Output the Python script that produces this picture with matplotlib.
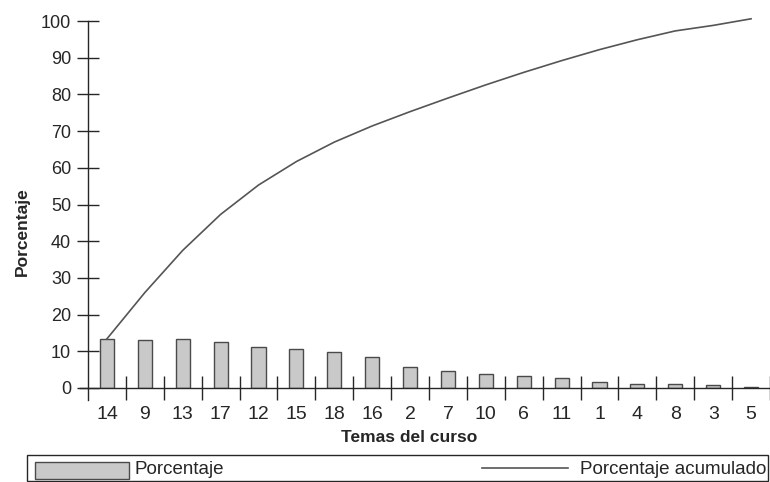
import matplotlib
matplotlib.use("Agg")
import matplotlib.pyplot as plt
from matplotlib.patches import Rectangle
from matplotlib.lines import Line2D

plt.rcParams['font.family'] = ['Liberation Sans', 'DejaVu Sans']

# Data
temas = ['14', '9', '13', '17', '12', '15', '18', '16', '2', '7', '10', '6', '11', '1', '4', '8', '3', '5']
porcentaje = [13.3, 13.2, 13.4, 12.5, 11.3, 10.6, 9.7, 8.4, 5.6, 4.7, 3.9, 3.3, 2.6, 1.6, 1.2, 1.2, 0.9, 0.4]
acumulado = [13.4, 26.0, 37.5, 47.3, 55.3, 61.7, 67.0, 71.4, 75.3, 79.0, 82.6, 86.0, 89.2, 92.2, 94.9, 97.3, 98.8, 100.6]
yticks = [0, 10, 20, 30, 40, 50, 60, 70, 80, 90, 100]

W, H = 770, 482
fig = plt.figure(figsize=(W / 100, H / 100), dpi=100)
fig.patch.set_facecolor('white')

ax_left, ax_right, ax_bottom_px, ax_top_px = 88, 770, 388, 21
ax = fig.add_axes([ax_left / W, (H - ax_bottom_px) / H,
                   (ax_right - ax_left) / W, (ax_bottom_px - ax_top_px) / H])
ax.set_facecolor('none')

x = list(range(len(temas)))
ink = '#262626'
ax.bar(x, porcentaje, width=0.37, color='#c9c9c9', edgecolor='#4a4a4a', linewidth=1.0, zorder=2)
ax.plot(x, acumulado, color='#555555', linewidth=1.2, clip_on=False, zorder=3)

ax.set_xlim(-0.5, len(temas) - 0.5)
ax.set_ylim(0, 100)

for s in ['top', 'right']:
    ax.spines[s].set_visible(False)
ax.spines['left'].set_color(ink)
ax.spines['bottom'].set_color(ink)
ax.spines['left'].set_linewidth(1.0)
ax.spines['bottom'].set_linewidth(1.0)
px_per_unit_y = (ax_bottom_px - ax_top_px) / 100
px_per_unit_x = (ax_right - ax_left) / len(temas)
ax.spines['left'].set_bounds(-12 / px_per_unit_y, 100)
ax.spines['bottom'].set_bounds(-0.5 - 8 / px_per_unit_x, len(temas) - 0.5)

ax.set_yticks(yticks)
ax.set_yticklabels([str(v) for v in yticks])
ax.tick_params(axis='y', direction='inout', length=16.5, width=1.0, color=ink,
               labelsize=13, labelcolor=ink, pad=4.0)

ax.set_xticks(x)
ax.set_xticklabels(temas)
ax.set_xticks([i - 0.5 for i in range(1, len(temas) + 1)], minor=True)
ax.tick_params(axis='x', which='major', length=0, labelsize=14, labelcolor=ink, pad=13)
ax.tick_params(axis='x', which='minor', direction='inout', length=17, width=1.0, color=ink)

fig.text(409 / W, 1 - 438 / H, 'Temas del curso', ha='center', va='center',
         fontsize=12.5, fontweight='bold', color=ink)
fig.text(22 / W, 1 - 232 / H, 'Porcentaje', ha='center', va='center', rotation=90,
         fontsize=12.5, fontweight='bold', color=ink)

# Legend box
def fx(px):
    return px / W

def fy(py):
    return 1 - py / H

fig.add_artist(Rectangle((fx(27), fy(481)), fx(768) - fx(27), fy(455) - fy(481),
                         transform=fig.transFigure, facecolor='none', edgecolor=ink, linewidth=1.0))
fig.add_artist(Rectangle((fx(35), fy(479)), fx(129) - fx(35), fy(462) - fy(479),
                         transform=fig.transFigure, facecolor='#c9c9c9', edgecolor='#4a4a4a', linewidth=1.0))
fig.text(fx(135), fy(470), 'Porcentaje', ha='left', va='center', fontsize=13.5, color=ink)
fig.add_artist(Line2D([fx(482), fx(568)], [fy(468), fy(468)], transform=fig.transFigure,
                      color='#555555', linewidth=1.2))
fig.text(fx(766), fy(470), 'Porcentaje acumulado', ha='right', va='center', fontsize=13.5, color=ink)

fig.savefig('out.png', dpi=100, facecolor='white')
